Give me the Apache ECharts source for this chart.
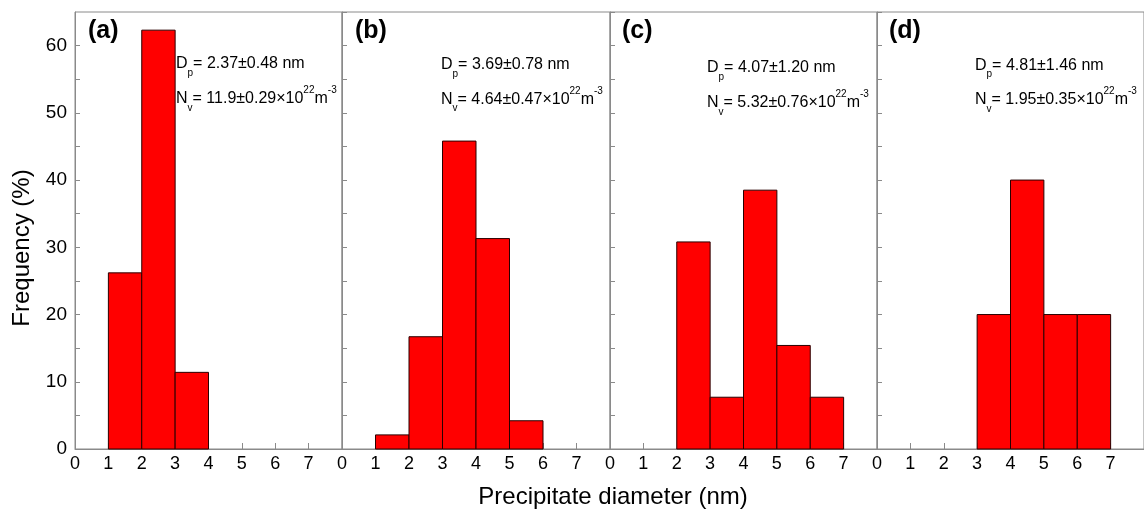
<!DOCTYPE html>
<html>
<head>
<meta charset="utf-8">
<title>Precipitate size distribution</title>
<script src="https://cdn.jsdelivr.net/npm/echarts@6/dist/echarts.min.js"></script>
<style>
  html, body { margin: 0; padding: 0; background: #fff; }
  #chart { width: 1144px; height: 514px; }
</style>
</head>
<body>
<div id="chart"></div>
<script>
// lower bin edges (nm), every bin is 1 nm wide
const binsA = [1, 2, 3]
const freqA = [26.2, 62.3, 11.4]
const binsB = [1, 2, 3, 4, 5]
const freqB = [2.1, 16.7, 45.8, 31.3, 4.2]
const binsC = [2, 3, 4, 5, 6]
const freqC = [30.8, 7.7, 38.5, 15.4, 7.7]
const binsD = [3, 4, 5, 6]
const freqD = [20, 40, 20, 20]

const panelTags = ['(a)', '(b)', '(c)', '(d)']
const meanDp = ['2.37±0.48', '3.69±0.78', '4.07±1.20', '4.81±1.46']
const densityNv = ['11.9±0.29', '4.64±0.47', '5.32±0.76', '1.95±0.35']

const xTickLabels = ['0', '1', '2', '3', '4', '5', '6', '7']
const yTickLabels = ['0', '10', '20', '30', '40', '50', '60']

const FONT = '"Liberation Sans", Arial, sans-serif'
const AXIS_GRAY = '#8a8a8a'

const panels = [
  { bins: binsA, freq: freqA },
  { bins: binsB, freq: freqB },
  { bins: binsC, freq: freqC },
  { bins: binsD, freq: freqD }
]
const lefts = [75, 342, 610, 877]
const widths = [267, 268, 267, 268] // last one runs past the right edge, like the original crop
// where the D_p / N_v notes sit in each panel
const notePos = [[176, 64, 99], [441, 65, 99.5], [707, 68, 103], [975, 65.5, 100]]
const tagX = [88, 355, 622, 889]

const chart = echarts.init(document.getElementById('chart'))

const grids = []
const xAxes = []
const yAxes = []
const series = []

panels.forEach((p, i) => {
  grids.push({
    left: lefts[i],
    top: 12,
    width: widths[i],
    bottom: 65,
    show: true,
    borderColor: AXIS_GRAY,
    borderWidth: 1,
    backgroundColor: 'transparent'
  })
  xAxes.push({
    type: 'value',
    gridIndex: i,
    min: 0,
    max: 8,
    interval: 1,
    splitLine: { show: false },
    axisLine: { show: true, lineStyle: { color: AXIS_GRAY, width: 1 } },
    axisTick: { show: true, inside: true, length: 6, lineStyle: { color: AXIS_GRAY } },
    axisLabel: {
      show: true,
      margin: 6,
      showMaxLabel: false,
      color: '#000',
      fontSize: 18,
      fontFamily: FONT,
      formatter: v => (xTickLabels[v] !== undefined ? xTickLabels[v] : '')
    }
  })
  yAxes.push({
    type: 'value',
    gridIndex: i,
    min: 0,
    max: 65,
    interval: 5,
    splitLine: { show: false },
    axisLine: { show: true, lineStyle: { color: AXIS_GRAY, width: 1 } },
    axisTick: { show: true, inside: true, length: 5, lineStyle: { color: AXIS_GRAY } },
    axisLabel: {
      show: i === 0,
      margin: 8,
      showMaxLabel: false,
      color: '#000',
      fontSize: 19,
      fontFamily: FONT,
      formatter: v => (v % 10 === 0 ? yTickLabels[v / 10] : '')
    }
  })
  series.push({
    type: 'custom',
    xAxisIndex: i,
    yAxisIndex: i,
    encode: { x: [0, 1], y: 2 },
    data: p.bins.map((b, k) => [b, b + 1, p.freq[k]]),
    renderItem(params, api) {
      const topLeft = api.coord([api.value(0), api.value(2)])
      const bottomRight = api.coord([api.value(1), 0])
      return {
        type: 'rect',
        shape: {
          x: topLeft[0],
          y: topLeft[1],
          width: bottomRight[0] - topLeft[0],
          height: bottomRight[1] - topLeft[1]
        },
        style: { fill: '#ff0000', stroke: '#2a0000', lineWidth: 1 }
      }
    }
  })
})

const noteRich = {
  m: { fontSize: 16, fontFamily: FONT, fill: '#000' },
  sub: { fontSize: 10, fontFamily: FONT, fill: '#000', padding: [18, 0, 0, 0] },
  sup: { fontSize: 10, fontFamily: FONT, fill: '#000', padding: [0, 0, 17, 0] }
}

const graphics = []
panels.forEach((p, i) => {
  graphics.push({
    type: 'text',
    x: tagX[i],
    y: 31,
    style: {
      text: panelTags[i],
      fill: '#000',
      font: 'bold 25px ' + FONT,
      align: 'left',
      verticalAlign: 'middle'
    }
  })
  graphics.push({
    type: 'text',
    x: notePos[i][0],
    y: notePos[i][1],
    style: {
      text: '{m|D}{sub|p}{m|= ' + meanDp[i] + ' nm}',
      rich: noteRich,
      align: 'left',
      verticalAlign: 'middle'
    }
  })
  graphics.push({
    type: 'text',
    x: notePos[i][0],
    y: notePos[i][2],
    style: {
      text: '{m|N}{sub|v}{m|= ' + densityNv[i] + '×10}{sup|22}{m|m}{sup|-3}',
      rich: noteRich,
      align: 'left',
      verticalAlign: 'middle'
    }
  })
})

graphics.push({
  type: 'text',
  x: 613,
  y: 497,
  style: {
    text: 'Precipitate diameter (nm)',
    fill: '#000',
    font: '24px ' + FONT,
    align: 'center',
    verticalAlign: 'middle'
  }
})
graphics.push({
  type: 'text',
  x: 22,
  y: 248,
  rotation: Math.PI / 2,
  style: {
    text: 'Frequency (%)',
    fill: '#000',
    font: '24px ' + FONT,
    align: 'center',
    verticalAlign: 'middle'
  }
})

chart.setOption({
  animation: false,
  backgroundColor: '#fff',
  grid: grids,
  xAxis: xAxes,
  yAxis: yAxes,
  series: series,
  graphic: graphics
})
</script>
</body>
</html>
